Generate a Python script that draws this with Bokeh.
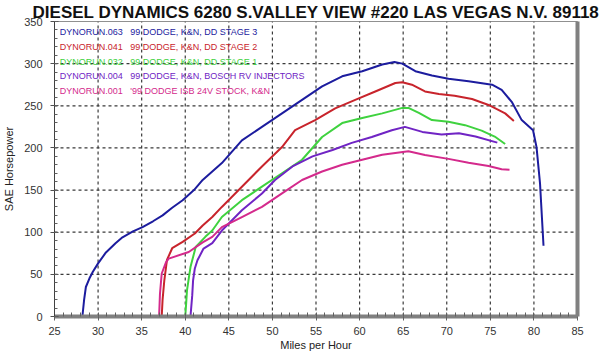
from bokeh.plotting import figure
from bokeh.models import FixedTicker, LinearAxis, Range1d, ColumnDataSource
from bokeh.core.properties import value
from bokeh.embed import file_html
from bokeh.resources import INLINE

title_text = "DIESEL DYNAMICS 6280 S.VALLEY VIEW #220 LAS VEGAS N.V. 89118"
x_label = "Miles per Hour"
y_label = "SAE Horsepower"
x_ticks = [25, 30, 35, 40, 45, 50, 55, 60, 65, 70, 75, 80, 85]
y_ticks = [0, 50, 100, 150, 200, 250, 300, 350]

# DYNORUN.063 - DD Stage 3
s3_mph = [28.2, 28.4, 28.6, 29.0, 29.4, 30.0, 30.9, 32.0, 32.8, 34.0, 35.1, 36.3, 37.4,
          38.5, 39.7, 41.0, 42.0, 44.2, 46.5, 48.8, 51.1, 53.4, 55.7, 58.0, 60.3, 62.6,
          64.0, 64.9, 66.4, 68.3, 70.2, 72.5, 75.2, 76.3, 77.5, 78.6, 79.9, 80.3, 80.7, 81.1]
s3_hp = [0, 20, 35, 45, 53, 63, 76, 87, 94, 101, 106, 113, 120,
         129, 138, 150, 162, 182, 209, 225, 241, 257, 273, 285, 291, 299,
         302, 300, 291, 286, 282, 279, 275, 269, 254, 233, 221, 201, 158, 84]

# DYNORUN.041 - DD Stage 2
s2_mph = [37.3, 37.4, 37.6, 37.9, 38.5, 39.7, 41.1, 42.0, 43.1, 44.2, 46.5, 48.8, 51.1,
          52.6, 54.9, 57.2, 59.5, 61.8, 64.1, 64.9, 66.0, 67.5, 69.1, 70.9, 72.9, 74.8,
          76.7, 77.7]
s2_hp = [0, 20, 43, 67, 81, 88.5, 98.5, 108, 118, 130, 154, 178, 201,
         221, 233, 247, 257, 267, 277, 278, 275, 267, 264, 262, 258, 251,
         241, 232]

# DYNORUN.032 - DD Stage 1
s1_mph = [40.0, 40.1, 40.2, 40.4, 40.6, 41.2, 42.3, 43.1, 44.2, 46.5, 48.8, 51.1, 53.4,
          55.7, 58.0, 60.3, 62.6, 64.9, 65.6, 66.8, 68.3, 70.2, 72.1, 74.0, 75.5, 76.7]
s1_hp = [0, 15, 31, 45, 58.7, 82.5, 94.5, 102, 118, 138, 154, 170, 186,
         213, 229.5, 235.5, 241, 247.5, 247.5, 241.5, 233, 231, 227, 220.5, 213.5, 204.7]

# DYNORUN.004 - Bosch RV injectors
rv_mph = [40.6, 40.8, 40.9, 41.1, 41.4, 42.1, 43.1, 44.2, 46.5, 48.8, 50.3, 52.3, 54.6,
          56.9, 59.1, 61.4, 63.7, 65.2, 67.2, 69.4, 71.4, 73.3, 75.8]
rv_hp = [0, 25, 43, 57, 66.7, 80.6, 87, 102, 126, 146, 162, 178, 190,
         197.6, 206, 213, 221, 225, 219, 216, 217.5, 213.5, 206.3]

# DYNORUN.001 - Stock
st_mph = [37.0, 37.1, 37.3, 37.8, 38.1, 40.4, 42.0, 43.1, 44.2, 46.5, 48.8, 51.1, 53.4,
          55.7, 58.0, 60.3, 62.6, 65.6, 67.5, 70.2, 72.5, 74.8, 76.3, 77.2]
st_hp = [0, 27, 51, 64.6, 68.7, 76.5, 88, 94.5, 106, 118, 130, 146, 162,
         172, 180, 186, 192, 196, 191.7, 187, 182.5, 178.6, 174.6, 174]

run_ids = ["DYNORUN.063", "DYNORUN.041", "DYNORUN.032", "DYNORUN.004", "DYNORUN.001"]
run_desc = ["99 DODGE, K&N, DD STAGE 3", "99 DODGE, K&N, DD STAGE 2",
            "99 DODGE, K&N, DD STAGE 1", "99 DODGE, K&N, BOSCH RV INJECTORS",
            "'99 DODGE ISB 24V STOCK, K&N"]
colors = ["#1c1c9e", "#c8242c", "#3fd23f", "#7024c4", "#d42a8c"]

series = [(s3_mph, s3_hp), (s2_mph, s2_hp), (s1_mph, s1_hp), (rv_mph, rv_hp), (st_mph, st_hp)]

FONT = "Liberation Sans"
X_MIN, X_MAX = x_ticks[0], x_ticks[-1]
Y_MIN, Y_MAX = y_ticks[0], y_ticks[-1]

p = figure(width=600, height=356, x_range=Range1d(X_MIN, X_MAX), y_range=Range1d(Y_MIN, Y_MAX),
           output_backend="svg", toolbar_location=None,
           min_border_left=52, min_border_right=23, min_border_bottom=40, min_border_top=0)

p.title.text = title_text
p.title.text_font = FONT
p.title.text_font_size = "17px"
p.title.text_font_style = "bold"
p.title.text_color = "#111111"
p.title.align = "center"
p.title.standoff = 0
p.title.offset = 0

p.outline_line_color = "#909090"
p.outline_line_width = 1

xtick = FixedTicker(ticks=x_ticks, minor_ticks=list(range(25, 86)))
ytick = FixedTicker(ticks=y_ticks, minor_ticks=list(range(0, 351, 10)))

p.xgrid.visible = False
p.ygrid.visible = False

# dotted grid drawn from the tick arrays
gx = x_ticks[1:-1]
gy = y_ticks[1:-1]
p.segment(x0=gx, y0=[Y_MIN] * len(gx), x1=gx, y1=[Y_MAX] * len(gx),
          line_color="#3a3a3a", line_width=1.2, line_dash="3 3")
p.segment(x0=[X_MIN] * len(gy), y0=gy, x1=[X_MAX] * len(gy), y1=gy,
          line_color="#3a3a3a", line_width=1.2, line_dash="3 3")

xa = p.xaxis[0]
xa.ticker = xtick
xa.axis_line_color = "#808080"
xa.axis_line_width = 4
xa.major_tick_line_color = "#606060"
xa.major_tick_out = 4
xa.major_tick_in = 0
xa.minor_tick_line_color = "#606060"
xa.minor_tick_in = 4
xa.minor_tick_out = 0
xa.major_label_text_font = FONT
xa.major_label_text_font_size = "11px"
xa.major_label_text_color = "#333333"
xa.major_label_standoff = 6
xa.axis_label = x_label
xa.axis_label_text_font = FONT
xa.axis_label_text_font_size = "11px"
xa.axis_label_text_font_style = "normal"
xa.axis_label_text_color = "#222222"
xa.axis_label_standoff = 1

ya = p.yaxis[0]
ya.ticker = ytick
ya.axis_line_color = "#404040"
ya.axis_line_width = 1
ya.major_tick_line_color = "#505050"
ya.major_tick_out = 4
ya.major_tick_in = 4
ya.minor_tick_line_color = "#606060"
ya.minor_tick_in = 3
ya.minor_tick_out = 0
ya.major_label_text_font = FONT
ya.major_label_text_font_size = "11px"
ya.major_label_text_color = "#333333"
ya.major_label_standoff = 8
ya.axis_label = y_label
ya.axis_label_text_font = FONT
ya.axis_label_text_font_size = "11px"
ya.axis_label_text_font_style = "normal"
ya.axis_label_text_color = "#222222"
ya.axis_label_standoff = 6

ra = LinearAxis(ticker=FixedTicker(ticks=[]), major_label_text_font_size="0px",
                axis_line_color="#808080", axis_line_width=4,
                major_tick_line_color=None, minor_tick_line_color=None)
p.add_layout(ra, "right")

for (mx, hy), c in zip(series, colors):
    p.line(mx, hy, line_color=c, line_width=2)

# legend text block
leg_y = [337 - i * 17.4 for i in range(len(run_ids))]
src = ColumnDataSource(dict(x1=[25.6] * len(run_ids), x2=[33.7] * len(run_ids),
                            y=leg_y, ids=run_ids, desc=run_desc, c=colors))
p.text(x="x1", y="y", text="ids", text_color="c", source=src, text_font=value(FONT),
       text_font_size="9px", text_baseline="middle", text_align="left")
p.text(x="x2", y="y", text="desc", text_color="c", source=src, text_font=value(FONT),
       text_font_size="9px", text_baseline="middle", text_align="left")

open("out.html", "w").write(file_html(p, INLINE))
